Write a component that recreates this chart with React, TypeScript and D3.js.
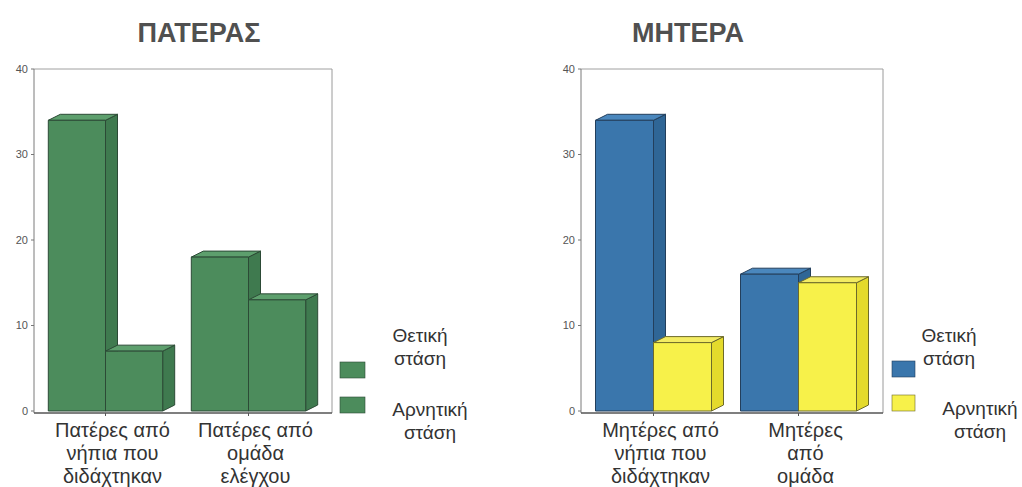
import React from "react";
import * as d3 from "d3";

// Values and labels for the two bar panels
const yTicks = [0, 10, 20, 30, 40];
const seriesLabels = [
  ["Θετική", "στάση"],
  ["Αρνητική", "στάση"],
];

const fatherTitle = "ΠΑΤΕΡΑΣ";
const fatherCategories = [
  ["Πατέρες από", "νήπια που", "διδάχτηκαν"],
  ["Πατέρες από", "ομάδα", "ελέγχου"],
];
const fatherPositive = [34, 18];
const fatherNegative = [7, 13];

const motherTitle = "ΜΗΤΕΡΑ";
const motherCategories = [
  ["Μητέρες από", "νήπια που", "διδάχτηκαν"],
  ["Μητέρες", "από", "ομάδα"],
];
const motherPositive = [34, 16];
const motherNegative = [8, 15];

type Shade = { front: string; top: string; side: string; stroke: string };

const green: Shade = { front: "#4c8c5c", top: "#5d9f6d", side: "#3f7a4f", stroke: "#2c4a36" };
const blue: Shade = { front: "#3a76ac", top: "#4a87bd", side: "#2f6696", stroke: "#233f5c" };
const yellow: Shade = { front: "#f7f14a", top: "#f3ec63", side: "#e4da2c", stroke: "#6d6a2a" };

const DEPTH_X = 12;
const DEPTH_Y = -6;
const FONT = "'Liberation Sans', Arial, sans-serif";

type Layout = {
  axisX: number;
  bandEnd: number;
  top: number;
  zeroY: number;
  titleX: number;
  labelDx: number;
  swatchX: number;
  swatchW: number;
  swatchY: number[];
  legendTextX: number[];
  legendTextY: number[];
};

function Bar3D({ x, w, y0, y1, shade }: { x: number; w: number; y0: number; y1: number; shade: Shade }) {
  const front = `M${x},${y0}L${x + w},${y0}L${x + w},${y1}L${x},${y1}Z`;
  const topFace = `M${x},${y1}L${x + DEPTH_X},${y1 + DEPTH_Y}L${x + w + DEPTH_X},${y1 + DEPTH_Y}L${x + w},${y1}Z`;
  const side = `M${x + w},${y1}L${x + w + DEPTH_X},${y1 + DEPTH_Y}L${x + w + DEPTH_X},${y0 + DEPTH_Y}L${x + w},${y0}Z`;
  return (
    <g stroke={shade.stroke} strokeWidth={1} strokeLinejoin="round">
      <path d={side} fill={shade.side} />
      <path d={topFace} fill={shade.top} />
      <path d={front} fill={shade.front} />
    </g>
  );
}

function Panel({
  title,
  categories,
  positive,
  negative,
  shades,
  layout,
}: {
  title: string;
  categories: string[][];
  positive: number[];
  negative: number[];
  shades: Shade[];
  layout: Layout;
}) {
  const keys = categories.map((_, i) => String(i));
  const x = d3
    .scaleBand<string>()
    .domain(keys)
    .range([layout.axisX, layout.bandEnd])
    .paddingInner(0.2)
    .paddingOuter(0.1);
  const sub = d3.scaleBand<number>().domain([0, 1]).range([0, x.bandwidth()]);
  const y = d3.scaleLinear().domain([0, 40]).range([layout.zeroY, layout.top]);
  const right = layout.bandEnd + DEPTH_X;
  const series = [positive, negative];

  return (
    <g>
      <text
        x={layout.titleX}
        y={42}
        textAnchor="middle"
        fontFamily={FONT}
        fontWeight="bold"
        fontSize={27}
        fill="#505050"
      >
        {title}
      </text>

      {/* frame */}
      <line x1={layout.axisX} x2={right} y1={y(40)} y2={y(40)} stroke="#a0a0a0" />
      <line x1={right} x2={right} y1={y(40)} y2={y(0) + 2} stroke="#9a9a9a" />
      <line x1={layout.axisX} x2={layout.axisX} y1={y(40)} y2={y(0) + 2} stroke="#7a7a7a" />
      <line x1={layout.axisX} x2={right} y1={y(0) + 2} y2={y(0) + 2} stroke="#555" strokeWidth={1.3} />

      {yTicks.map((t) => (
        <g key={t}>
          <line x1={layout.axisX - 3} x2={layout.axisX} y1={y(t)} y2={y(t)} stroke="#777" />
          <text
            x={layout.axisX - 6}
            y={y(t)}
            dy="0.35em"
            textAnchor="end"
            fontFamily={FONT}
            fontSize={11}
            fill="#555"
          >
            {t}
          </text>
        </g>
      ))}

      {keys.map((k, i) => (
        <g key={k}>
          {series.map((vals, s) => (
            <Bar3D
              key={s}
              x={(x(k) ?? 0) + (sub(s) ?? 0)}
              w={sub.bandwidth()}
              y0={y(0)}
              y1={y(vals[i])}
              shade={shades[s]}
            />
          ))}
          <line
            x1={(x(k) ?? 0) + x.bandwidth() / 2}
            x2={(x(k) ?? 0) + x.bandwidth() / 2}
            y1={y(0) + 2}
            y2={y(0) + 5}
            stroke="#555"
          />
          {categories[i].map((line, j) => (
            <text
              key={j}
              x={(x(k) ?? 0) + x.bandwidth() / 2 + layout.labelDx}
              y={437 + j * 23}
              textAnchor="middle"
              fontFamily={FONT}
              fontSize={20}
              fill="#333"
            >
              {line}
            </text>
          ))}
        </g>
      ))}

      {seriesLabels.map((lines, s) => (
        <g key={s}>
          <rect
            x={layout.swatchX}
            y={layout.swatchY[s]}
            width={layout.swatchW}
            height={16}
            fill={shades[s].front}
            stroke={shades[s].stroke}
            strokeWidth={0.6}
          />
          {lines.map((line, j) => (
            <text
              key={j}
              x={layout.legendTextX[s]}
              y={layout.legendTextY[s] + j * 23}
              textAnchor="middle"
              fontFamily={FONT}
              fontSize={19}
              fill="#333"
            >
              {line}
            </text>
          ))}
        </g>
      ))}
    </g>
  );
}

const fatherLayout: Layout = {
  axisX: 34,
  bandEnd: 320,
  top: 69,
  zeroY: 411,
  titleX: 199,
  labelDx: 7,
  swatchX: 340,
  swatchW: 25,
  swatchY: [362, 397],
  legendTextX: [420, 430],
  legendTextY: [342, 416],
};

const motherLayout: Layout = {
  axisX: 581,
  bandEnd: 871,
  top: 69,
  zeroY: 411,
  titleX: 688,
  labelDx: 7,
  swatchX: 892,
  swatchW: 23,
  swatchY: [361, 395],
  legendTextX: [949, 980],
  legendTextY: [342, 415],
};

export default function App() {
  return (
    <svg
      width={1022}
      height={487}
      style={{ position: "absolute", left: 0, top: 0, background: "#fff" }}
    >
      <rect width={1022} height={487} fill="#fff" />
      <Panel
        title={fatherTitle}
        categories={fatherCategories}
        positive={fatherPositive}
        negative={fatherNegative}
        shades={[green, green]}
        layout={fatherLayout}
      />
      <Panel
        title={motherTitle}
        categories={motherCategories}
        positive={motherPositive}
        negative={motherNegative}
        shades={[blue, yellow]}
        layout={motherLayout}
      />
    </svg>
  );
}
